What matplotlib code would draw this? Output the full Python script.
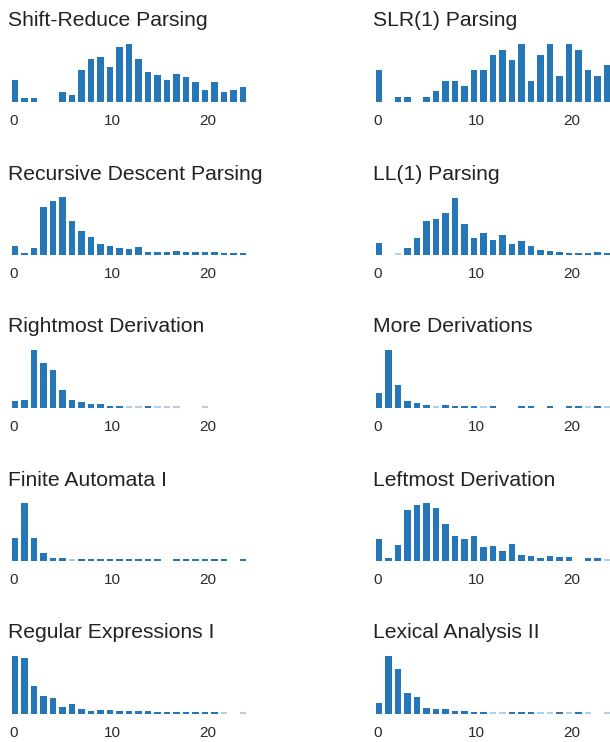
import matplotlib
matplotlib.use("Agg")
import matplotlib.pyplot as plt

# ---------------- data ----------------
titles = [
    "Shift-Reduce Parsing", "SLR(1) Parsing",
    "Recursive Descent Parsing", "LL(1) Parsing",
    "Rightmost Derivation", "More Derivations",
    "Finite Automata I", "Leftmost Derivation",
    "Regular Expressions I", "Lexical Analysis II",
]

bins = list(range(25))
tick_values = [0, 10, 20]

shift_reduce = [22, 4, 4, None, None, 10, 7, 32, 43, 45, 35, 55, 58, 43, 30, 27, 22, 28, 25, 20, 12, 20, 10, 12, 15]
slr1 = [32, None, 5, 5, None, 5, 11, 21, 21, 16, 32, 32, 47, 52, 42, 58, 21, 47, 58, 26, 58, 52, 32, 26, 37]
recursive_descent = [9, 2, 7, 48, 54, 58, 34, 24, 18, 11, 9, 7, 6, 8, 3, 3, 3, 4, 3, 3, 3, 3, 2, 2, 2]
ll1 = [12, None, 1.5, 7, 17, 34, 36, 42, 57, 31, 17, 22, 15, 20, 11, 14, 9, 5, 4, 3, 2, 2, 2, 3, 2]
rightmost = [7, 8, 58, 45, 38, 18, 8, 6, 4, 4, 2, 2, 2, 2, 2, 2, 2, 2, None, None, 2, None, None, None, None]
more_derivations = [15, 58, 23, 7, 5, 2.5, 2, 3, 2, 2, 2, 2, 2, None, None, 2, 2, None, 2, None, 2, 2, 2, 2, 2]
finite_automata = [23, 58, 23, 8, 3, 3, 2, 2, 2, 2, 2, 2, 2, 2, 2, 2, None, 2, 2, 2, 2, 2, 2, None, 2]
leftmost = [22, 3, 16, 51, 56, 58, 53, 37, 25, 22, 25, 14, 15, 10, 17, 6, 5, 3, 5, 4, 4, None, 3, 3, 2]
regex1 = [58, 56, 28, 18, 16, 7, 10, 5, 3, 4, 4, 3, 2.5, 2.5, 2.5, 2, 2, 2, 2, 2, 2, 2, 2, None, 2]
lexical2 = [11, 58, 45, 21, 17, 6, 5, 5, 3, 3, 2, 2, 2, 2, 2, 2, 2, 2, 2, 2, 2, 2, 2, None, 2]

series = [shift_reduce, slr1, recursive_descent, ll1, rightmost,
          more_derivations, finite_automata, leftmost, regex1, lexical2]

# bins drawn with reduced opacity
faded_bins = [[], [], [], [2], [12, 13, 15, 16, 17, 20],
              [6, 11, 22, 24], [6], [24], [22, 24], [12, 13, 17, 18, 20, 22, 24]]

# ---------------- layout ----------------
W, H = 610, 742
fig = plt.figure(figsize=(W / 100, H / 100), dpi=100)
fig.patch.set_facecolor("white")

FONT = ["Liberation Sans", "DejaVu Sans"]
BAR = "#2677b7"
PITCH = 9.5
col_x0 = [10.25, 374.25]          # pixel of xlim left edge
ax_w = 25 * PITCH
ax_h = 60
baselines = [101.5 + 153 * r for r in range(5)]
title_x = [8.3, 372.7]

for k, (title, vals) in enumerate(zip(titles, series)):
    r, c = divmod(k, 2)
    base = baselines[r]
    ax = fig.add_axes([col_x0[c] / W, (H - base) / H, ax_w / W, ax_h / H])
    ax.set_xlim(-0.5, 24.5)
    ax.set_ylim(0, 60)
    ax.axis("off")
    for i, v in zip(bins, vals):
        if v is None:
            continue
        a = 0.35 if i in faded_bins[k] else 1.0
        ax.bar(i, v, width=0.7, color=BAR, alpha=a, linewidth=0)
    for t in tick_values:
        ax.annotate(str(t), xy=(t - 0.6, 0), xycoords=("data", "axes fraction"),
                    xytext=(0, -23.3 * 0.72), textcoords="offset points",
                    ha="left", va="baseline", fontsize=11, color="#2b2b2b",
                    family=FONT, annotation_clip=False)
    fig.text(title_x[c] / W, (H - (base - 75)) / H, title, ha="left", va="baseline",
             fontsize=15.2, color="#222222", family=FONT)

fig.savefig("out.png", dpi=100)
